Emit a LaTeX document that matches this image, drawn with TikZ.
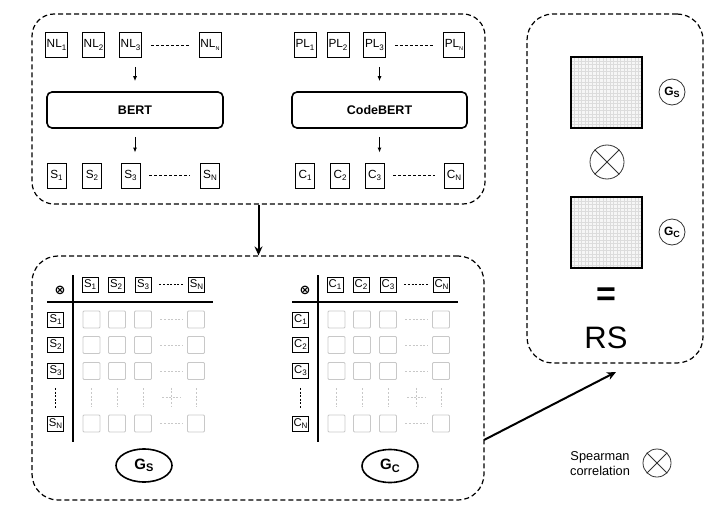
\documentclass[tikz,border=0pt]{standalone}
\usepackage{fontspec}
\setmainfont{Liberation Sans}
\newfontfamily\symfont{DejaVu Sans}
\usetikzlibrary{arrows.meta,shapes.geometric}
\newcommand\mysub[1]{\raisebox{-0.35ex}{\fontsize{8}{8}\selectfont #1}}
\newcommand\mytinysub[1]{\raisebox{-0.35ex}{\fontsize{5.5}{5.5}\selectfont #1}}
\newcommand\gsub[2]{\raisebox{-0.3ex}{\fontsize{#2}{#2}\selectfont #1}}
\definecolor{cellgray}{HTML}{C8C8C8}
\definecolor{gridbg}{HTML}{F6F6F6}
\definecolor{gridln}{HTML}{DCDCDC}
\begin{document}
\begin{tikzpicture}[x=1pt,y=-1pt,font=\fontsize{11.8}{13}\selectfont,
  panel/.style={draw, dash pattern=on 5pt off 3pt, line width=1.2pt, rounded corners=22pt, inner sep=0pt},
  tbox/.style={draw, line width=0.8pt, minimum height=25pt, minimum width=19pt, inner sep=1.5pt},
  model/.style={draw, line width=1.6pt, rounded corners=5pt, minimum width=176pt, minimum height=36pt, font=\fontsize{12.5}{13}\selectfont\bfseries},
  arr/.style={-{Latex[length=5pt,width=4pt]}, line width=1pt},
  bigarr/.style={-{Stealth[length=9pt,width=8pt]}, line width=2pt},
  dots/.style={dash pattern=on 3pt off 2pt, line width=0.7pt},
  mdots/.style={dash pattern=on 2pt off 1.6pt, line width=0.7pt},
  mlabel/.style={draw, line width=0.8pt, minimum width=16pt, minimum height=15pt, inner sep=0.5pt, font=\fontsize{11.3}{12}\selectfont},
  mcell/.style={draw=cellgray, line width=0.8pt, rounded corners=1pt, minimum width=17pt, minimum height=17pt, inner sep=0pt},
  gdots/.style={draw=cellgray, dash pattern=on 2pt off 1.6pt, line width=0.6pt},
  rowdash/.style={gdots, shorten <=8.5pt, shorten >=4.5pt},
  coldash/.style={gdots, shorten <=8.5pt, shorten >=8pt},
  gellipse/.style={ellipse, draw, line width=1.6pt, minimum width=56pt, minimum height=33pt, inner sep=0pt},
  ocirc/.style={circle, draw=black!80, line width=0.8pt, inner sep=0pt},
  maxis/.style={line width=1.3pt},
  gsym/.style={font=\fontsize{15}{15}\selectfont\bfseries},
  csym/.style={font=\fontsize{12}{12}\selectfont\bfseries},
  sqr/.style={fill=gridbg, minimum size=71pt, inner sep=0pt},
  otimes/.style={font=\fontsize{13}{13}\symfont\bfseries, inner sep=0pt}
]
\useasboundingbox (0,0) rectangle (720,516);

% panels
\node[panel, minimum width=453pt, minimum height=190pt] (top) at (258.5,109) {};
\node[panel, minimum width=452pt, minimum height=244pt, rounded corners=26pt] (bottom) at (258,378) {};
\node[panel, minimum width=176pt, minimum height=349pt, rounded corners=26pt] (right) at (615,188.5) {};

% top panel: inputs
\node[tbox] (NL1) at (56.5,45) {NL\mysub{1}};
\node[tbox] (NL2) at (93.5,45) {NL\mysub{2}};
\node[tbox] (NL3) at (130.5,45) {NL\mysub{3}};
\node[tbox] (NLN) at (210,45) {NL\mytinysub{N}};
\node[tbox] (PL1) at (305,45) {PL\mysub{1}};
\node[tbox] (PL2) at (338,45) {PL\mysub{2}};
\node[tbox] (PL3) at (374.5,45) {PL\mysub{3}};
\node[tbox] (PLN) at (454,45) {PL\mytinysub{N}};
\draw[dots, shorten <=9pt, shorten >=9pt] (PL3.east) -- (PLN.west);
\draw[dots, shorten <=9pt, shorten >=10pt] (NL3.east) -- (NLN.west);

% models
\node[model] (BERT) at (135,110) {BERT};
\node[model, minimum width=175pt] (CB) at (379.5,110) {CodeBERT};

% outputs
\node[tbox] (S1) at (56.5,175.5) {S\mysub{1}};
\node[tbox] (S2) at (92,175.5) {S\mysub{2}};
\node[tbox] (S3) at (130.5,175.5) {S\mysub{3}};
\node[tbox] (SN) at (210,175.5) {S\mysub{N}};
\draw[dots, shorten <=9pt, shorten >=10pt] (S3.east) -- (SN.west);
\node[tbox] (C1) at (305,175.5) {C\mysub{1}};
\node[tbox] (C2) at (340,175.5) {C\mysub{2}};
\node[tbox] (C3) at (374.5,175.5) {C\mysub{3}};
\node[tbox] (CN) at (454,175.5) {C\mysub{N}};
\draw[dots, shorten <=9pt, shorten >=9pt] (C3.east) -- (CN.west);

% top arrows
\draw[arr, shorten <=9pt, shorten >=10pt] (BERT.north |- NL3.south) -- (BERT.north);
\draw[arr, shorten <=8pt, shorten >=10pt] (BERT.south) -- (BERT.south |- S3.north);
\draw[arr, shorten <=9pt, shorten >=10pt] (CB.north |- PL3.south) -- (CB.north);
\draw[arr, shorten <=8pt, shorten >=10pt] (CB.south) -- (CB.south |- C3.north);

% main arrows
\draw[bigarr] (top.south) -- (top.south |- bottom.north);
\coordinate (d0) at (484,440);
\coordinate (d1) at (616,372);
\draw[bigarr] (d0) -- (d1);

% ---------- similarity matrix S ----------
\node[otimes] (xS) at (60,290) {⊗};
\node[mlabel] (hS1) at (90,284.5) {S\mysub{1}};
\node[mlabel] (hS2) at (116,284.5) {S\mysub{2}};
\node[mlabel] (hS3) at (143,284.5) {S\mysub{3}};
\node[mlabel] (hSN) at (196.5,284.5) {S\mysub{N}};
\draw[mdots, shorten <=8pt, shorten >=4pt] (hS3.east) -- (hSN.west);
\draw[maxis] (47,302) -- (213,302);
\draw[maxis] (73,275) -- (73,442);
\node[mlabel] (rS1) at (55.5,319.5) {S\mysub{1}};
\node[mlabel] (rS2) at (55.5,345) {S\mysub{2}};
\node[mlabel] (rS3) at (55.5,371) {S\mysub{3}};
\node[mlabel] (rSN) at (55.5,423.5) {S\mysub{N}};
\draw[mdots, shorten <=9pt, shorten >=8pt] (rS3.south) -- (rSN.north);
\node[mcell] (cS11) at (91.5,319.5) {};
\node[mcell] (cS12) at (117,319.5) {};
\node[mcell] (cS13) at (143,319.5) {};
\node[mcell] (cS1N) at (196,319.5) {};
\node[mcell] (cS21) at (91.5,345) {};
\node[mcell] (cS22) at (117,345) {};
\node[mcell] (cS23) at (143,345) {};
\node[mcell] (cS2N) at (196,345) {};
\node[mcell] (cS31) at (91.5,371) {};
\node[mcell] (cS32) at (117,371) {};
\node[mcell] (cS33) at (143,371) {};
\node[mcell] (cS3N) at (196,371) {};
\node[mcell] (cSN1) at (91.5,423.5) {};
\node[mcell] (cSN2) at (117,423.5) {};
\node[mcell] (cSN3) at (143,423.5) {};
\node[mcell] (cSNN) at (196,423.5) {};
\draw[rowdash] (cS13.east) -- (cS1N.west);
\draw[rowdash] (cS23.east) -- (cS2N.west);
\draw[rowdash] (cS33.east) -- (cS3N.west);
\draw[rowdash] (cSN3.east) -- (cSNN.west);
\draw[coldash] (cS31.south) -- (cSN1.north);
\draw[coldash] (cS32.south) -- (cSN2.north);
\draw[coldash] (cS33.south) -- (cSN3.north);
\draw[coldash] (cS3N.south) -- (cSNN.north);
\draw[gdots] (171.5,387.5) -- (171.5,406.5);
\draw[gdots] (162,397) -- (181,397);
\node[gellipse, gsym] (gS) at (144,465.5) {G\gsub{S}{11}};

% ---------- similarity matrix C ----------
\node[otimes] (xC) at (305,290) {⊗};
\node[mlabel] (hC1) at (335,284.5) {C\mysub{1}};
\node[mlabel] (hC2) at (361,284.5) {C\mysub{2}};
\node[mlabel] (hC3) at (388,284.5) {C\mysub{3}};
\node[mlabel] (hCN) at (441.5,284.5) {C\mysub{N}};
\draw[mdots, shorten <=8pt, shorten >=4pt] (hC3.east) -- (hCN.west);
\draw[maxis] (292,302) -- (458,302);
\draw[maxis] (318,275) -- (318,442);
\node[mlabel] (rC1) at (300.5,319.5) {C\mysub{1}};
\node[mlabel] (rC2) at (300.5,345) {C\mysub{2}};
\node[mlabel] (rC3) at (300.5,371) {C\mysub{3}};
\node[mlabel] (rCN) at (300.5,423.5) {C\mysub{N}};
\draw[mdots, shorten <=9pt, shorten >=8pt] (rC3.south) -- (rCN.north);
\node[mcell] (cC11) at (336.5,319.5) {};
\node[mcell] (cC12) at (362,319.5) {};
\node[mcell] (cC13) at (388,319.5) {};
\node[mcell] (cC1N) at (441,319.5) {};
\node[mcell] (cC21) at (336.5,345) {};
\node[mcell] (cC22) at (362,345) {};
\node[mcell] (cC23) at (388,345) {};
\node[mcell] (cC2N) at (441,345) {};
\node[mcell] (cC31) at (336.5,371) {};
\node[mcell] (cC32) at (362,371) {};
\node[mcell] (cC33) at (388,371) {};
\node[mcell] (cC3N) at (441,371) {};
\node[mcell] (cCN1) at (336.5,423.5) {};
\node[mcell] (cCN2) at (362,423.5) {};
\node[mcell] (cCN3) at (388,423.5) {};
\node[mcell] (cCNN) at (441,423.5) {};
\draw[rowdash] (cC13.east) -- (cC1N.west);
\draw[rowdash] (cC23.east) -- (cC2N.west);
\draw[rowdash] (cC33.east) -- (cC3N.west);
\draw[rowdash] (cCN3.east) -- (cCNN.west);
\draw[coldash] (cC31.south) -- (cCN1.north);
\draw[coldash] (cC32.south) -- (cCN2.north);
\draw[coldash] (cC33.south) -- (cCN3.north);
\draw[coldash] (cC3N.south) -- (cCNN.north);
\draw[gdots] (416.5,387.5) -- (416.5,406.5);
\draw[gdots] (407,397) -- (426,397);
\node[gellipse, gsym] (gC) at (390,466) {G\gsub{C}{11}};

% ---------- right panel ----------
\node[sqr] (sqS) at (606.5,92.5) {};
\draw[gridln, line width=0.3pt, shift={(sqS.south west)}] (0pt,0pt) grid[step=3.55pt] (71pt,71pt);
\draw[line width=2pt] (sqS.south west) rectangle (sqS.north east);
\node[sqr] (sqC) at (606.5,232.5) {};
\draw[gridln, line width=0.3pt, shift={(sqC.south west)}] (0pt,0pt) grid[step=3.55pt] (71pt,71pt);
\draw[line width=2pt] (sqC.south west) rectangle (sqC.north east);

\node[ocirc, minimum size=34pt] (ox) at (607,162) {};
\draw[black!80, line width=0.8pt] (ox.north west) -- (ox.south east) (ox.north east) -- (ox.south west);

\node[ocirc, minimum size=26pt, csym] (lS) at (672,92) {G\gsub{S}{9}};
\node[ocirc, minimum size=26pt, csym] (lC) at (672,232) {G\gsub{C}{9}};

\node[font=\fontsize{34}{34}\selectfont\bfseries] (eq) at (606,297) {=};
\node[font=\fontsize{31}{31}\selectfont] (rs) at (606,338) {RS};

% legend
\node[align=center, font=\fontsize{12.8}{15}\selectfont] (leg) at (600,464) {Spearman\\correlation};
\node[ocirc, minimum size=28pt] (lx) at (657,463) {};
\draw[black!80, line width=0.8pt] (lx.north west) -- (lx.south east) (lx.north east) -- (lx.south west);
\end{tikzpicture}
\end{document}
